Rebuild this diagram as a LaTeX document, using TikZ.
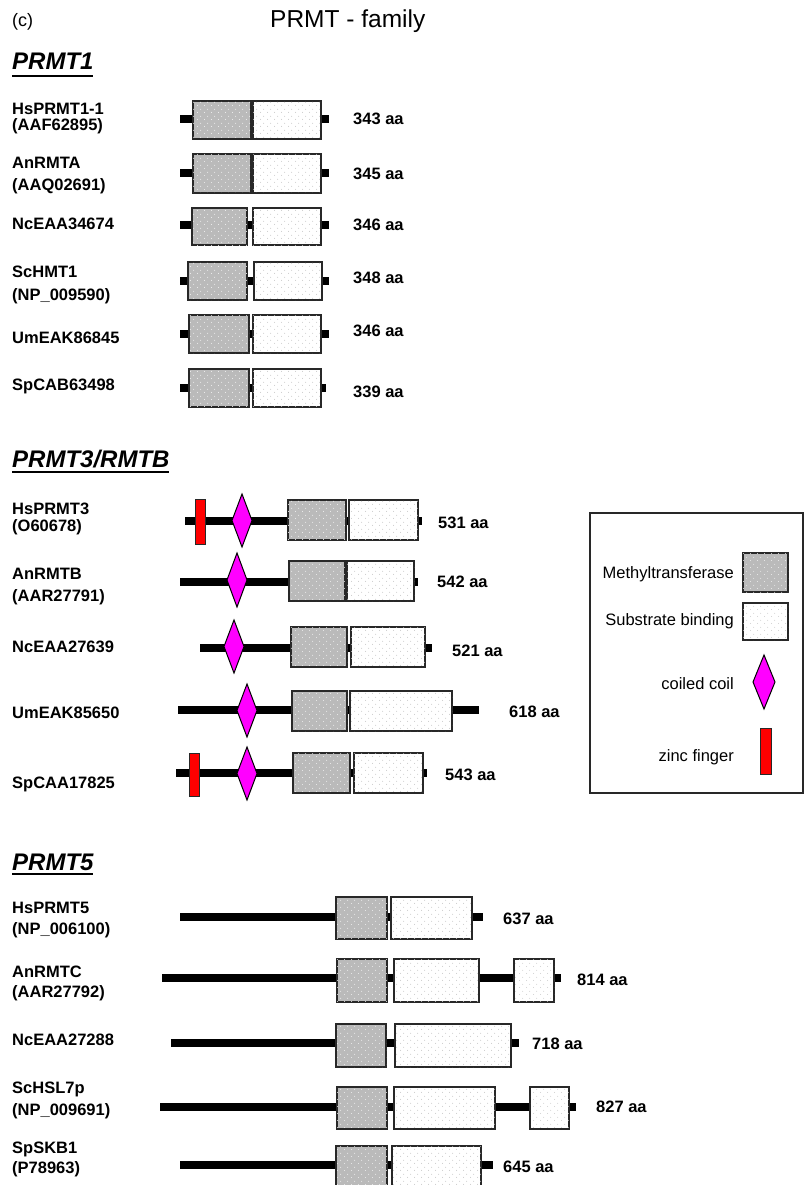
\documentclass[tikz,border=0pt]{standalone}
\usepackage{fontspec}
\setmainfont{Liberation Sans}
\usetikzlibrary{patterns}
\pgfdeclarepatternformonly{sparsedots}{\pgfqpoint{0pt}{0pt}}{\pgfqpoint{7pt}{7pt}}{\pgfqpoint{7pt}{7pt}}{%
  \pgfpathcircle{\pgfqpoint{1.75pt}{1.75pt}}{0.55pt}%
  \pgfpathcircle{\pgfqpoint{5.25pt}{5.25pt}}{0.55pt}%
  \pgfusepath{fill}}
\definecolor{mtgray}{RGB}{186,186,186}
\definecolor{edge}{RGB}{40,40,40}
\definecolor{ccmag}{RGB}{255,0,255}
\definecolor{zfred}{RGB}{255,0,0}
\newcommand{\labfont}{\fontsize{16.5}{18}\selectfont\bfseries}
\newcommand{\hdrfont}{\fontsize{24}{26}\selectfont\bfseries\itshape}
\newcommand{\legfont}{\fontsize{16.5}{18}\selectfont}
\tikzset{
  prot/.style={line width=8pt, line cap=butt, draw=black},
  mt/.style={draw=edge, line width=1.3pt, fill=mtgray, postaction={pattern=sparsedots, pattern color=white!92!gray}},
  sb/.style={draw=edge, line width=1.3pt, fill=white, postaction={pattern=sparsedots, pattern color=gray!45}},
  cc/.style={draw=black, line width=1pt, fill=ccmag, line join=miter},
  zf/.style={draw=edge, line width=1pt, fill=zfred},
  lab/.style={font=\labfont, anchor=base west, inner sep=0pt},
  aa/.style={font=\labfont, anchor=base west, inner sep=0pt},
  hdr/.style={font=\hdrfont, anchor=base west, inner sep=0pt},
  leg/.style={font=\legfont, anchor=base east, inner sep=0pt},
}
\newcommand{\diam}[4]{% cx, top, bottom, halfwidth
  \draw[cc] (#1,#2) -- ({#1+#4},{(#2+#3)/2}) -- (#1,#3) -- ({#1-#4},{(#2+#3)/2}) -- cycle;}
\begin{document}
\begin{tikzpicture}[x=1pt,y=-1pt]
\useasboundingbox (0,0) rectangle (804,1185);

% title
\node[font=\fontsize{18}{20}\selectfont, anchor=base west, inner sep=0pt] (tc) at (12,27) {(c)};
\node[font=\fontsize{24.5}{26}\selectfont, anchor=base west, inner sep=0pt] (title) at (270,28) {PRMT - family};

% ---------------- PRMT1 ----------------
\node[hdr] (h1) at (12,70) {PRMT1};
\draw[line width=1.8pt] ([yshift=-6pt]h1.base west) -- ([yshift=-6pt,xshift=-1pt]h1.base east);

\node[lab] (l11) at (12,115) {HsPRMT1-1};
\node[lab] (l11b) at (12,131) {(AAF62895)};
\node[lab] (l12) at (12,168) {AnRMTA};
\node[lab] (l12b) at (12,190) {(AAQ02691)};
\node[lab] (l13) at (12,229) {NcEAA34674};
\node[lab] (l14) at (12,277) {ScHMT1};
\node[lab] (l14b) at (12,300) {(NP\_009590)};
\node[lab] (l15) at (12,343) {UmEAK86845};
\node[lab] (l16) at (12,390) {SpCAB63498};

\draw[prot] (180,119) -- (329,119);
\draw[mt] (193,101) rectangle (251,139);
\draw[sb] (253,101) rectangle (321,139);
\node[aa] (a11) at (353,125) {343 aa};

\draw[prot] (180,173) -- (329,173);
\draw[mt] (193,154) rectangle (251,193);
\draw[sb] (253,154) rectangle (321,193);
\node[aa] (a12) at (353,180) {345 aa};

\draw[prot] (180,224.5) -- (329,224.5);
\draw[mt] (192,208) rectangle (247,245);
\draw[sb] (253,208) rectangle (321,245);
\node[aa] (a13) at (353,230) {346 aa};

\draw[prot] (180,281) -- (329,281);
\draw[mt] (188,262) rectangle (247,300);
\draw[sb] (254,262) rectangle (322,300);
\node[aa] (a14) at (353,283) {348 aa};

\draw[prot] (180,334) -- (329,334);
\draw[mt] (189,315) rectangle (249,353);
\draw[sb] (253,315) rectangle (321,353);
\node[aa] (a15) at (353,336) {346 aa};

\draw[prot] (180,388) -- (326,388);
\draw[mt] (189,369) rectangle (249,407);
\draw[sb] (253,369) rectangle (321,407);
\node[aa] (a16) at (353,397) {339 aa};

% ---------------- PRMT3/RMTB ----------------
\node[hdr] (h3) at (12,467) {PRMT3/RMTB};
\draw[line width=1.8pt] ([yshift=-5pt]h3.base west) -- ([yshift=-5pt,xshift=-1pt]h3.base east);

\node[lab] (l31) at (12,514) {HsPRMT3};
\node[lab] (l31b) at (12,531) {(O60678)};
\node[lab] (l32) at (12,579) {AnRMTB};
\node[lab] (l32b) at (12,601) {(AAR27791)};
\node[lab] (l33) at (12,652) {NcEAA27639};
\node[lab] (l34) at (12,718) {UmEAK85650};
\node[lab] (l35) at (12,788) {SpCAA17825};

\draw[prot] (185,521) -- (422,521);
\draw[mt] (288,500) rectangle (346,540);
\draw[sb] (349,500) rectangle (418,540);
\diam{242}{494}{547}{10}
\draw[zf] (195,499) rectangle (205,544);
\node[aa] (a31) at (438,528) {531 aa};

\draw[prot] (180,582) -- (418,582);
\draw[mt] (289,561) rectangle (345,601);
\draw[sb] (347,561) rectangle (414,601);
\diam{237}{553}{607}{10}
\node[aa] (a32) at (437,587) {542 aa};

\draw[prot] (200,648) -- (432,648);
\draw[mt] (291,627) rectangle (347,667);
\draw[sb] (351,627) rectangle (425,667);
\diam{234}{620}{673}{10}
\node[aa] (a33) at (452,656) {521 aa};

\draw[prot] (178,710) -- (479,710);
\draw[mt] (292,691) rectangle (347,731);
\draw[sb] (350,691) rectangle (452,731);
\diam{247}{684}{737}{10}
\node[aa] (a34) at (509,717) {618 aa};

\draw[prot] (176,773) -- (427,773);
\draw[mt] (293,753) rectangle (350,793);
\draw[sb] (354,753) rectangle (423,793);
\diam{247}{747}{800}{10}
\draw[zf] (189,753) rectangle (199,796);
\node[aa] (a35) at (445,780) {543 aa};

% legend
\draw[line width=1.3pt, draw=edge] (590,513) rectangle (803,793);
\node[leg] (lg1) at (734,578) {Methyltransferase};
\draw[mt] (743,553) rectangle (788,592);
\node[leg] (lg2) at (734,625) {Substrate binding};
\draw[sb] (743,603) rectangle (788,640);
\node[leg] (lg3) at (734,689) {coiled coil};
\diam{764}{655}{709}{11}
\node[leg] (lg4) at (734,761) {zinc finger};
\draw[zf] (760,728) rectangle (771,774);

% ---------------- PRMT5 ----------------
\node[hdr] (h5) at (12,870) {PRMT5};
\draw[line width=1.8pt] ([yshift=-4pt]h5.base west) -- ([yshift=-4pt,xshift=-1pt]h5.base east);

\node[lab] (l51) at (12,913) {HsPRMT5};
\node[lab] (l51b) at (12,934) {(NP\_006100)};
\node[lab] (l52) at (12,977) {AnRMTC};
\node[lab] (l52b) at (12,997) {(AAR27792)};
\node[lab] (l53) at (12,1045) {NcEAA27288};
\node[lab] (l54) at (12,1093) {ScHSL7p};
\node[lab] (l54b) at (12,1115) {(NP\_009691)};
\node[lab] (l55) at (12,1153) {SpSKB1};
\node[lab] (l55b) at (12,1173) {(P78963)};

\draw[prot] (180,917) -- (483,917);
\draw[mt] (336,897) rectangle (387,939);
\draw[sb] (391,897) rectangle (472,939);
\node[aa] (a51) at (503,924) {637 aa};

\draw[prot] (162,978) -- (561,978);
\draw[mt] (337,959) rectangle (387,1002);
\draw[sb] (394,959) rectangle (479,1002);
\draw[sb] (514,959) rectangle (554,1002);
\node[aa] (a52) at (577,985) {814 aa};

\draw[prot] (171,1043) -- (519,1043);
\draw[mt] (336,1024) rectangle (386,1067);
\draw[sb] (395,1024) rectangle (511,1067);
\node[aa] (a53) at (532,1049) {718 aa};

\draw[prot] (160,1107) -- (576,1107);
\draw[mt] (337,1087) rectangle (387,1129);
\draw[sb] (394,1087) rectangle (495,1129);
\draw[sb] (530,1087) rectangle (569,1129);
\node[aa] (a54) at (596,1112) {827 aa};

\draw[prot] (180,1165) -- (493,1165);
\draw[mt] (336,1146) rectangle (387,1190);
\draw[sb] (392,1146) rectangle (481,1190);
\node[aa] (a55) at (503,1172) {645 aa};
\end{tikzpicture}
\end{document}
